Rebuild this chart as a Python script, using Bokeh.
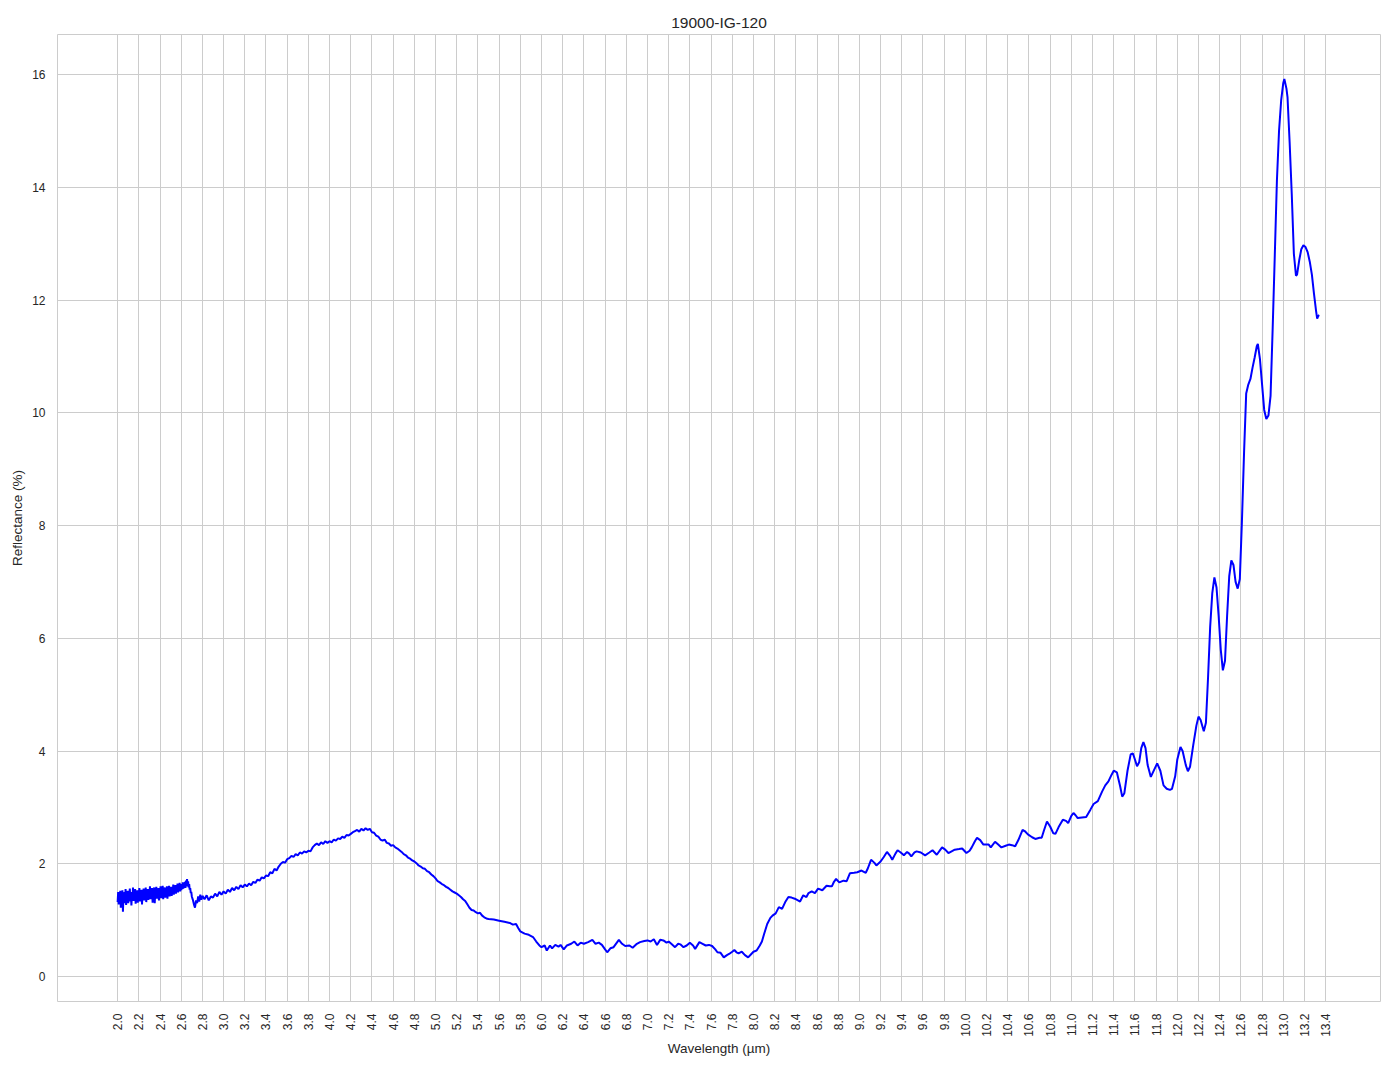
import math
from bokeh.plotting import figure
from bokeh.models import FixedTicker, Range1d, ColumnDataSource
from bokeh.embed import file_html
from bokeh.resources import INLINE

# ---- data ----
wl_a = [2.000, 2.005, 2.010, 2.015, 2.020, 2.025, 2.030, 2.035, 2.040, 2.045,
        2.050, 2.055, 2.060, 2.065, 2.070, 2.075, 2.080, 2.085, 2.090, 2.095,
        2.100, 2.105, 2.110, 2.115, 2.120, 2.125, 2.130, 2.135, 2.140, 2.145,
        2.150, 2.155, 2.160, 2.165, 2.170, 2.175, 2.180, 2.185, 2.190, 2.195,
        2.200, 2.205, 2.210, 2.215, 2.220, 2.225, 2.230, 2.235, 2.240, 2.245,
        2.250, 2.255, 2.260, 2.265, 2.270, 2.275, 2.280, 2.285, 2.290, 2.295,
        2.300, 2.305, 2.310, 2.315, 2.320, 2.325, 2.330, 2.335, 2.340, 2.345,
        2.350, 2.355, 2.360, 2.365, 2.370, 2.375, 2.380, 2.385, 2.390, 2.395,
        2.400, 2.405, 2.410, 2.415, 2.420, 2.425, 2.430, 2.435, 2.440, 2.445,
        2.450, 2.455, 2.460, 2.465, 2.470, 2.475, 2.480, 2.485, 2.490, 2.495,
        2.500, 2.505, 2.510, 2.515, 2.520, 2.525, 2.530, 2.535, 2.540, 2.545,
        2.550, 2.555, 2.560, 2.565, 2.570, 2.575, 2.580, 2.585, 2.590, 2.595,
        2.600, 2.605, 2.610, 2.615, 2.620, 2.625, 2.630, 2.635, 2.640, 2.645,
        2.650, 2.655, 2.660, 2.665, 2.670, 2.675, 2.680, 2.685, 2.690, 2.695,
        2.70, 2.71, 2.72, 2.73, 2.74, 2.75, 2.76, 2.77, 2.78, 2.79, 2.80]
refl_a = [1.32, 1.50, 1.28, 1.46, 1.40, 1.52, 1.22, 1.48, 1.35, 1.53,
          1.15, 1.44, 1.30, 1.50, 1.38, 1.55, 1.27, 1.45, 1.36, 1.52,
          1.30, 1.48, 1.42, 1.56, 1.33, 1.50, 1.26, 1.47, 1.38, 1.58,
          1.34, 1.49, 1.40, 1.55, 1.29, 1.46, 1.37, 1.53, 1.31, 1.50,
          1.42, 1.57, 1.33, 1.48, 1.36, 1.54, 1.28, 1.50, 1.41, 1.56,
          1.35, 1.52, 1.39, 1.58, 1.32, 1.47, 1.43, 1.55, 1.36, 1.51,
          1.40, 1.60, 1.37, 1.53, 1.45, 1.57, 1.31, 1.49, 1.42, 1.58,
          1.30, 1.50, 1.44, 1.59, 1.38, 1.54, 1.41, 1.57, 1.35, 1.52,
          1.43, 1.60, 1.39, 1.55, 1.46, 1.61, 1.37, 1.53, 1.44, 1.58,
          1.40, 1.55, 1.47, 1.60, 1.38, 1.56, 1.45, 1.61, 1.42, 1.57,
          1.46, 1.59, 1.43, 1.58, 1.48, 1.63, 1.45, 1.60, 1.50, 1.62,
          1.47, 1.61, 1.52, 1.65, 1.49, 1.62, 1.54, 1.66, 1.51, 1.63,
          1.53, 1.64, 1.55, 1.67, 1.56, 1.65, 1.58, 1.68, 1.57, 1.70,
          1.62, 1.73, 1.60, 1.69, 1.58, 1.64, 1.54, 1.57, 1.48, 1.50,
          1.42, 1.36, 1.28, 1.22, 1.35, 1.30, 1.42, 1.33, 1.45, 1.36, 1.43]

wl_b = [2.82, 2.84, 2.86, 2.88, 2.90, 2.92, 2.94, 2.96, 2.98, 3.00,
        3.02, 3.04, 3.06, 3.08, 3.10, 3.12, 3.14, 3.16, 3.18, 3.20,
        3.22, 3.24, 3.26, 3.28, 3.30, 3.32, 3.34, 3.36, 3.38, 3.40,
        3.42, 3.44, 3.46, 3.48, 3.50, 3.52, 3.54, 3.56, 3.58, 3.60,
        3.62, 3.64, 3.66, 3.68, 3.70, 3.72, 3.74, 3.76, 3.78, 3.80,
        3.82, 3.84, 3.86, 3.88, 3.90, 3.92, 3.94, 3.96, 3.98, 4.00,
        4.02, 4.04, 4.06, 4.08, 4.10, 4.12, 4.14, 4.16, 4.18, 4.20,
        4.22, 4.24, 4.26, 4.28, 4.30, 4.32, 4.34, 4.36, 4.38, 4.40,
        4.42, 4.44, 4.46, 4.48, 4.50, 4.52, 4.54, 4.56, 4.58, 4.60,
        4.62, 4.64, 4.66, 4.68, 4.70, 4.72, 4.74, 4.76, 4.78, 4.80,
        4.82, 4.84, 4.86, 4.88, 4.90, 4.92, 4.94, 4.96, 4.98, 5.00,
        5.02, 5.04, 5.06, 5.08, 5.10, 5.12, 5.14, 5.16, 5.18, 5.20,
        5.22, 5.24, 5.26, 5.28, 5.30, 5.32, 5.34, 5.36, 5.38, 5.40,
        5.42, 5.44, 5.46, 5.48, 5.50]
refl_b = [1.37, 1.44, 1.35, 1.42, 1.40, 1.47, 1.42, 1.50, 1.45, 1.51,
          1.47, 1.54, 1.50, 1.57, 1.53, 1.59, 1.55, 1.62, 1.58, 1.63,
          1.60, 1.65, 1.62, 1.68, 1.66, 1.72, 1.70, 1.76, 1.74, 1.79,
          1.78, 1.85, 1.83, 1.91, 1.88, 1.95, 2.00, 2.03, 2.02, 2.08,
          2.10, 2.14, 2.12, 2.17, 2.15, 2.20, 2.18, 2.22, 2.20, 2.23,
          2.22, 2.29, 2.33, 2.36, 2.33, 2.38, 2.35, 2.40, 2.37, 2.40,
          2.38, 2.43, 2.41, 2.45, 2.44, 2.48, 2.46, 2.51, 2.50, 2.53,
          2.56, 2.58, 2.60, 2.57, 2.62, 2.59, 2.63, 2.60, 2.62, 2.56,
          2.55, 2.50, 2.48, 2.43, 2.41, 2.43, 2.37, 2.36, 2.32, 2.33,
          2.29, 2.27, 2.24, 2.21, 2.17, 2.15, 2.11, 2.09, 2.06, 2.04,
          2.01, 1.97, 1.95, 1.92, 1.91, 1.87, 1.85, 1.81, 1.78, 1.74,
          1.69, 1.67, 1.64, 1.62, 1.59, 1.57, 1.54, 1.51, 1.49, 1.47,
          1.44, 1.41, 1.37, 1.34, 1.28, 1.22, 1.18, 1.17, 1.14, 1.12,
          1.13, 1.08, 1.05, 1.03, 1.02]

wl_c = [5.55, 5.60, 5.65, 5.70, 5.73, 5.76, 5.78, 5.80, 5.84, 5.88,
        5.92, 5.95, 5.98, 6.00, 6.03, 6.05, 6.08, 6.10, 6.13, 6.16,
        6.18, 6.21, 6.24, 6.28, 6.31, 6.34, 6.37, 6.40, 6.44, 6.48,
        6.51, 6.54, 6.57, 6.60, 6.62, 6.65, 6.68, 6.73, 6.76, 6.79,
        6.83, 6.86, 6.90, 6.93, 6.97, 7.00, 7.03, 7.06, 7.09, 7.12,
        7.15, 7.18, 7.20, 7.23, 7.26, 7.29, 7.31, 7.34, 7.37, 7.40,
        7.43, 7.45, 7.49, 7.52, 7.55, 7.58, 7.61, 7.64, 7.66, 7.69,
        7.72, 7.75, 7.77, 7.80, 7.82, 7.84, 7.86, 7.89, 7.92, 7.95,
        7.98, 8.00, 8.03, 8.06, 8.08, 8.10, 8.13, 8.16, 8.18, 8.21]
refl_c = [1.01, 0.99, 0.97, 0.95, 0.92, 0.93, 0.86, 0.80, 0.76, 0.74,
          0.70, 0.62, 0.55, 0.52, 0.55, 0.46, 0.55, 0.50, 0.56, 0.53,
          0.56, 0.48, 0.55, 0.58, 0.62, 0.55, 0.60, 0.58, 0.61, 0.65,
          0.58, 0.60, 0.56, 0.48, 0.43, 0.50, 0.52, 0.65, 0.58, 0.54,
          0.55, 0.51, 0.58, 0.61, 0.63, 0.64, 0.62, 0.66, 0.56, 0.65,
          0.64, 0.60, 0.62, 0.57, 0.52, 0.58, 0.57, 0.52, 0.55, 0.60,
          0.55, 0.49, 0.61, 0.58, 0.55, 0.56, 0.54, 0.48, 0.43, 0.42,
          0.34, 0.38, 0.40, 0.44, 0.47, 0.43, 0.41, 0.44, 0.38, 0.34,
          0.40, 0.44, 0.46, 0.55, 0.62, 0.75, 0.93, 1.04, 1.08, 1.12]

wl_d = [8.24, 8.27, 8.30, 8.33, 8.36, 8.39, 8.42, 8.44, 8.47, 8.50,
        8.52, 8.55, 8.58, 8.61, 8.65, 8.69, 8.72, 8.74, 8.76, 8.78,
        8.81, 8.85, 8.88, 8.91, 8.95, 8.98, 9.02, 9.06, 9.08, 9.11,
        9.14, 9.16, 9.20, 9.23, 9.26, 9.29, 9.31, 9.34, 9.36, 9.39,
        9.42, 9.45, 9.47, 9.49, 9.52, 9.54, 9.58, 9.62, 9.66, 9.69,
        9.73, 9.78, 9.81, 9.84, 9.87, 9.90, 9.94, 9.97, 10.01, 10.04,
        10.06, 10.09, 10.11, 10.14, 10.17, 10.22, 10.24, 10.28, 10.31, 10.34,
        10.38, 10.41, 10.44, 10.47, 10.50, 10.54, 10.56, 10.59, 10.63, 10.66,
        10.70, 10.72, 10.74, 10.77, 10.80, 10.83, 10.85, 10.88, 10.92, 10.95,
        10.97, 11.00, 11.02, 11.04, 11.06, 11.10, 11.14, 11.18, 11.21, 11.25]
refl_d = [1.23, 1.20, 1.32, 1.41, 1.40, 1.38, 1.35, 1.33, 1.44, 1.41,
          1.48, 1.51, 1.48, 1.56, 1.53, 1.61, 1.60, 1.60, 1.68, 1.73,
          1.67, 1.70, 1.69, 1.83, 1.84, 1.85, 1.88, 1.84, 1.92, 2.07,
          2.02, 1.97, 2.04, 2.12, 2.21, 2.14, 2.07, 2.18, 2.24, 2.20,
          2.15, 2.21, 2.18, 2.13, 2.20, 2.22, 2.20, 2.15, 2.20, 2.24,
          2.16, 2.29, 2.25, 2.19, 2.22, 2.25, 2.26, 2.27, 2.19, 2.23,
          2.29, 2.40, 2.46, 2.42, 2.34, 2.34, 2.29, 2.39, 2.34, 2.29,
          2.32, 2.34, 2.33, 2.31, 2.42, 2.60, 2.58, 2.52, 2.47, 2.44,
          2.46, 2.46, 2.58, 2.75, 2.66, 2.54, 2.53, 2.65, 2.78, 2.76,
          2.72, 2.85, 2.90, 2.86, 2.81, 2.82, 2.83, 2.96, 3.06, 3.11]

wl_e = [11.29, 11.32, 11.35, 11.38, 11.40, 11.43, 11.46, 11.48, 11.50, 11.53,
        11.56, 11.58, 11.60, 11.62, 11.64, 11.66, 11.68, 11.70, 11.72, 11.75,
        11.78, 11.81, 11.84, 11.87, 11.90, 11.93, 11.95, 11.98, 12.00, 12.03,
        12.05, 12.08, 12.10, 12.12, 12.15, 12.18, 12.20, 12.22, 12.25, 12.27,
        12.29, 12.31, 12.33, 12.35, 12.37, 12.39, 12.41, 12.43, 12.45, 12.47,
        12.49, 12.51, 12.53, 12.55, 12.57, 12.59, 12.61, 12.63, 12.65, 12.67,
        12.69, 12.71, 12.73, 12.75, 12.76, 12.78, 12.80, 12.82, 12.84, 12.86,
        12.88, 12.90, 12.92, 12.94, 12.96, 12.98, 13.00, 13.01, 13.03, 13.04,
        13.06, 13.08, 13.10, 13.12, 13.13, 13.15, 13.17, 13.19, 13.21, 13.23,
        13.25, 13.27, 13.29, 13.31, 13.32, 13.33, 13.34]
refl_e = [3.28, 3.39, 3.46, 3.58, 3.65, 3.62, 3.38, 3.19, 3.25, 3.65,
          3.94, 3.96, 3.85, 3.73, 3.80, 4.05, 4.16, 4.05, 3.75, 3.54,
          3.66, 3.78, 3.65, 3.39, 3.33, 3.31, 3.33, 3.55, 3.85, 4.07,
          4.00, 3.75, 3.64, 3.72, 4.10, 4.45, 4.61, 4.55, 4.35, 4.50,
          5.30, 6.20, 6.80, 7.08, 6.90, 6.40, 5.80, 5.43, 5.60, 6.40,
          7.10, 7.38, 7.30, 7.00, 6.88, 7.05, 8.09, 9.30, 10.34, 10.50,
          10.60, 10.80, 10.98, 11.18, 11.22, 10.95, 10.50, 10.05, 9.89, 9.95,
          10.30, 11.50, 12.80, 14.12, 15.00, 15.54, 15.85, 15.92, 15.75, 15.60,
          14.80, 13.88, 12.82, 12.43, 12.45, 12.70, 12.90, 12.97, 12.94, 12.85,
          12.68, 12.45, 12.11, 11.80, 11.67, 11.72, 11.73]

x_ticks = [round(2.0 + 0.2 * i, 1) for i in range(58)]
y_ticks = [0, 2, 4, 6, 8, 10, 12, 14, 16]

wavelength = wl_a + wl_b + wl_c + wl_d + wl_e
reflectance = refl_a + refl_b + refl_c + refl_d + refl_e
source = ColumnDataSource(data=dict(x=wavelength, y=reflectance))

FONT = "Liberation Sans"
TXT = "#262626"
GRID = "#cccccc"

p = figure(frame_width=1323, frame_height=967, output_backend="svg", toolbar_location=None,
           x_range=Range1d(1.4325, 13.9175), y_range=Range1d(-0.4435, 16.71),
           title="19000-IG-120",
           min_border_left=57, min_border_right=14, min_border_top=34, min_border_bottom=68)

p.background_fill_color = "white"
p.border_fill_color = "white"
p.outline_line_color = GRID
p.outline_line_width = 1

p.title.text_font = FONT
p.title.text_font_size = "15.5px"
p.title.text_font_style = "normal"
p.title.text_color = TXT
p.title.align = "center"
p.title.standoff = 8

p.line("x", "y", source=source, line_color="#0000ff", line_width=2)

p.xaxis.ticker = FixedTicker(ticks=x_ticks)
p.yaxis.ticker = FixedTicker(ticks=y_ticks)
p.xaxis.major_label_overrides = {t: f"{t:.1f}" for t in x_ticks}
p.xaxis.major_label_orientation = math.pi / 2

for ax in (p.xaxis, p.yaxis):
    ax.axis_line_color = None
    ax.major_tick_line_color = None
    ax.minor_tick_line_color = None
    ax.major_tick_in = 0
    ax.major_tick_out = 0
    ax.minor_tick_in = 0
    ax.minor_tick_out = 0
    ax.major_label_text_font = FONT
    ax.major_label_text_font_size = "12px"
    ax.major_label_text_color = TXT
    ax.axis_label_text_font = FONT
    ax.axis_label_text_font_size = "13.5px"
    ax.axis_label_text_font_style = "normal"
    ax.axis_label_text_color = TXT

p.xaxis.axis_label = "Wavelength (µm)"
p.yaxis.axis_label = "Reflectance (%)"
p.xaxis.major_label_standoff = 12
p.yaxis.major_label_standoff = 12
p.xaxis.axis_label_standoff = 1
p.yaxis.axis_label_standoff = 4

p.xgrid.grid_line_color = GRID
p.ygrid.grid_line_color = GRID
p.xgrid.grid_line_width = 1
p.ygrid.grid_line_width = 1

open("out.html", "w").write(file_html(p, INLINE))
